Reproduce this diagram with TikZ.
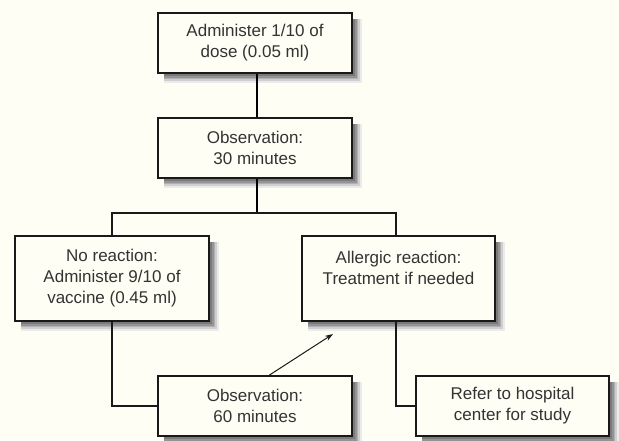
\documentclass[tikz,border=0pt]{standalone}
\usepackage{fontspec}
\setmainfont{Liberation Sans}
\usetikzlibrary{arrows.meta}
\definecolor{bgcream}{rgb}{1,0.996,0.955}
\definecolor{txtgray}{rgb}{0.2,0.2,0.2}
\definecolor{linedark}{rgb}{0.1,0.1,0.1}
\tikzset{
  flowbox/.style={draw=linedark, line width=1.3pt, fill=bgcream, align=center,
    inner sep=0pt, text=txtgray,
    font=\fontsize{17}{21}\selectfont},
  shadowline/.style={line width=1.8pt, line join=miter, line cap=butt},
  thin link/.style={draw=linedark, line width=1.1pt},
  thick link/.style={draw=black, line width=2pt},
}
\begin{document}
\begin{tikzpicture}[x=1pt,y=-1pt]
\path[fill=bgcream] (0,0) rectangle (619,440);
\useasboundingbox (0,0) rectangle (619,440);

\node[flowbox, minimum width=194pt, minimum height=60pt] (dose) at (255,43) {Administer 1/10 of\\dose (0.05 ml)};
\node[flowbox, minimum width=194pt, minimum height=60pt] (obs30) at (255,148) {Observation:\\30 minutes};
\node[flowbox, minimum width=194pt, minimum height=85pt] (noreac) at (112,278.5) {No reaction:\\Administer 9/10 of\\vaccine (0.45 ml)};
\node[flowbox, minimum width=193pt, minimum height=85pt] (allerg) at (398.5,278.5) {Allergic reaction:\\Treatment if needed\\\mbox{}};
\node[flowbox, minimum width=194pt, minimum height=60pt] (obs60) at (255,406) {Observation:\\60 minutes};
\node[flowbox, minimum width=193pt, minimum height=60pt] (refer) at (512.5,406) {Refer to hospital\\center for study};

% soft shadows right of and below each box, as graded strokes
\foreach \b in {dose,obs30,noreac,allerg,obs60,refer}{
  \foreach \d/\c in {1.6/52,3.3/42,5.0/31,6.7/19,8.4/8}{
    \draw[shadowline, draw=black!\c]
      ([shift={(\d,7)}]\b.north east) -- ([shift={(\d,\d)}]\b.south east) -- ([shift={(7,\d)}]\b.south west);
  }
}

\coordinate (split) at (257,213);
\coordinate (arrend) at (333,334);

\draw[thick link] ([xshift=2pt]dose.south) -- ([xshift=2pt]obs30.north);
\draw[thick link] ([xshift=2pt]obs30.south) -- (split);
\draw[thin link] (split) -| (noreac.north);
\draw[thin link] (split) -| ([xshift=-2.5pt]allerg.north);
\draw[thin link] (noreac.south) |- (obs60.west);
\draw[thin link] ([xshift=-2.5pt]allerg.south) |- (refer.west);
\draw[draw=linedark, line width=1pt, -{Stealth[length=8pt,width=5.5pt]}] ([xshift=14pt]obs60.north) -- (arrend);
\end{tikzpicture}
\end{document}
